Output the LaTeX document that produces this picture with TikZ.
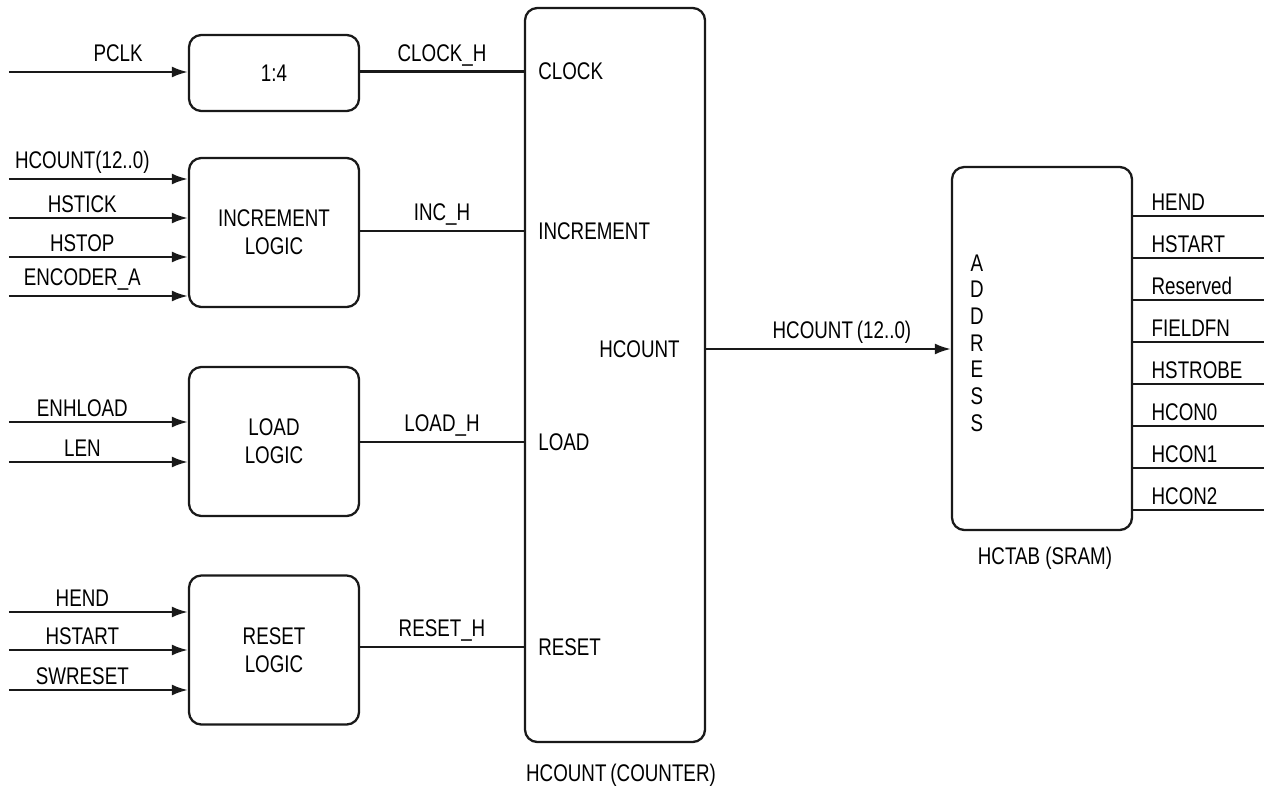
\documentclass[tikz,border=0pt]{standalone}
\usepackage{fontspec}
\setmainfont{Liberation Sans}[FakeStretch=0.78]
\usepackage{tikz}
\usetikzlibrary{arrows.meta, positioning, calc}

\begin{document}
\begin{tikzpicture}[
  font=\fontsize{13.7}{16}\selectfont,
  blk/.style  = {rectangle, rounded corners=7pt, draw=black!90, line width=1.3pt,
                 text centered, align=center,
                 minimum width=3.4cm, minimum height=2.98cm},
  wire/.style = {draw=black!90, line width=1.3pt},
  arr/.style  = {wire, -{Latex[length=0.32cm, width=0.22cm]}},
  lbl/.style  = {inner sep=2.5pt},
  pin/.style  = {inner sep=0pt, anchor=west},
]
  \useasboundingbox (0,0) rectangle (25.28,-15.82);

  % logic blocks on the left
  \node[blk, minimum height=1.52cm] (div) at (5.48,-1.46) {1:4};
  \node[blk] (inc)   at (5.48,-4.65) {INCREMENT\\LOGIC};
  \node[blk] (load)  at (5.48,-8.83) {LOAD\\LOGIC};
  \node[blk] (reset) at (5.48,-13.0) {RESET\\LOGIC};

  % counter and table
  \node[blk, minimum width=3.6cm, minimum height=14.68cm] (counter) at (12.3,-7.5) {};
  \node[blk, minimum width=3.6cm, minimum height=7.26cm] (sram) at (20.84,-6.97) {};
  \node (cntcap)  at (12.42,-15.5) {HCOUNT\,(COUNTER)};
  \node (sramcap) at (20.9,-11.16) {HCTAB (SRAM)};

  \node[pin] (clk)  at (10.76,-1.43) {CLOCK};
  \node[pin] (incr) at (10.76,-4.62) {INCREMENT};
  \node[pin] (ld)   at (10.76,-8.84) {LOAD};
  \node[pin] (rst)  at (10.76,-12.94) {RESET};
  \node[inner sep=0pt, anchor=east] (hcnt) at (13.6,-6.98) {HCOUNT};
  \node[align=center, font=\fontsize{13.7}{15.2}\selectfont] (addr) at (19.54,-6.86)
    {A\\D\\D\\R\\E\\S\\S};

  % inputs
  \coordinate (pclk)  at (0.18,-1.44);
  \coordinate (hcin)  at (0.18,-3.58);
  \coordinate (tick)  at (0.18,-4.36);
  \coordinate (stop)  at (0.18,-5.14);
  \coordinate (enc)   at (0.18,-5.92);
  \coordinate (enh)   at (0.18,-8.44);
  \coordinate (len)   at (0.18,-9.24);
  \coordinate (hend)  at (0.18,-12.24);
  \coordinate (hstrt) at (0.18,-13.00);
  \coordinate (swr)   at (0.18,-13.80);

  \draw[arr] (pclk)  -- node[lbl, above, pos=0.61, yshift=0.1cm] {PCLK} (pclk -| div.west);
  \draw[arr] (hcin)  -- node[lbl, above, pos=0.41] {HCOUNT(12..0)} (hcin -| inc.west);
  \draw[arr] (tick)  -- node[lbl, above, pos=0.41] {HSTICK} (tick -| inc.west);
  \draw[arr] (stop)  -- node[lbl, above, pos=0.41] {HSTOP} (stop -| inc.west);
  \draw[arr] (enc)   -- node[lbl, above, pos=0.41] {ENCODER\_A} (enc -| inc.west);
  \draw[arr] (enh)   -- node[lbl, above, pos=0.41] {ENHLOAD} (enh -| load.west);
  \draw[arr] (len)   -- node[lbl, above, pos=0.41] {LEN} (len -| load.west);
  \draw[arr] (hend)  -- node[lbl, above, pos=0.41] {HEND} (hend -| reset.west);
  \draw[arr] (hstrt) -- node[lbl, above, pos=0.41] {HSTART} (hstrt -| reset.west);
  \draw[arr] (swr)   -- node[lbl, above, pos=0.41] {SWRESET} (swr -| reset.west);

  % into the counter
  \draw[wire] (clk -| div.east)    -- node[lbl, above] {CLOCK\_H} (clk -| counter.west);
  \draw[wire] (incr -| inc.east)   -- node[lbl, above] {INC\_H} (incr -| counter.west);
  \draw[wire] (ld -| load.east)    -- node[lbl, above] {LOAD\_H} (ld -| counter.west);
  \draw[wire] (rst -| reset.east)  -- node[lbl, above] {RESET\_H} (rst -| counter.west);

  \draw[arr] (hcnt -| counter.east) -- node[lbl, above, pos=0.555] {HCOUNT\,(12..0)} (hcnt -| sram.west);

  % table outputs
  \foreach \t [count=\i] in {HEND,HSTART,Reserved,FIELDFN,HSTROBE,HCON0,HCON1,HCON2} {
    \coordinate (o\i) at (25.28,-3.48-0.84*\i);
    \draw[wire] (o\i -| sram.east) -- node[lbl, above right, pos=0, xshift=0.26cm] (out\i) {\t} (o\i);
  }
\end{tikzpicture}
\end{document}
